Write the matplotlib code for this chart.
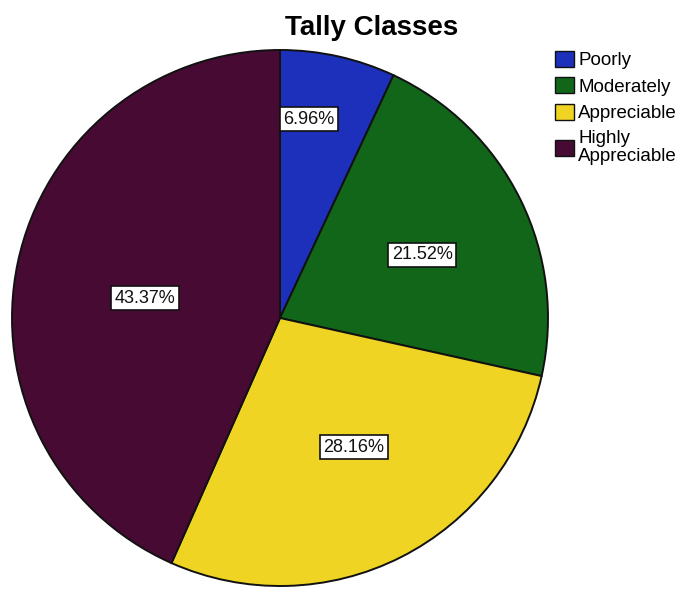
import matplotlib
matplotlib.use("Agg")
import matplotlib.pyplot as plt
import numpy as np

categories = ["Poorly", "Moderately", "Appreciable", "Highly\nAppreciable"]
values = [6.96, 21.52, 28.16, 43.37]
colors = ["#1c30bc", "#11661a", "#f0d424", "#470b33"]
label_dist = [0.75, 0.58, 0.556, 0.51]
label_angle_shift = [4.2, -2.3, 3.0, 3.6]

plt.rcParams['font.family'] = ['Liberation Sans', 'DejaVu Sans']

fig = plt.figure(figsize=(6.9, 5.93), dpi=100)
ax = fig.add_axes([12/690, 7/593, 536/690, 536/593])
wedges, texts = ax.pie(values, colors=colors, startangle=90, counterclock=False,
                       wedgeprops=dict(edgecolor="#111111", linewidth=1.4))
ax.set_xlim(-1, 1)
ax.set_ylim(-1, 1)
ax.set_aspect('equal')
ax.axis('off')

for w, v, d, s in zip(wedges, values, label_dist, label_angle_shift):
    ang = np.deg2rad((w.theta1 + w.theta2) / 2 + s)
    ax.text(d * np.cos(ang), d * np.sin(ang), f"{v:.2f}%", ha='center', va='center',
            fontsize=13, color='#111111',
            bbox=dict(boxstyle='square,pad=0.2', fc='white', ec='#111111', lw=1.2))

fig.text(372/690, 1 - 28/593, "Tally Classes", ha='center', va='center',
         fontsize=20, fontweight='bold')

leg = fig.legend(wedges, categories, loc='upper left', bbox_to_anchor=(553/690, 1 - 49/593),
                 frameon=False, fontsize=13.5, handlelength=1.0, handleheight=0.95,
                 handletextpad=0.25, labelspacing=0.42, borderaxespad=0, borderpad=0.1)
for t in leg.get_texts():
    t.set_linespacing(1.1)
for h in leg.legend_handles:
    h.set_edgecolor('#111111')
    h.set_linewidth(1.0)

fig.savefig("out.png", dpi=100)
